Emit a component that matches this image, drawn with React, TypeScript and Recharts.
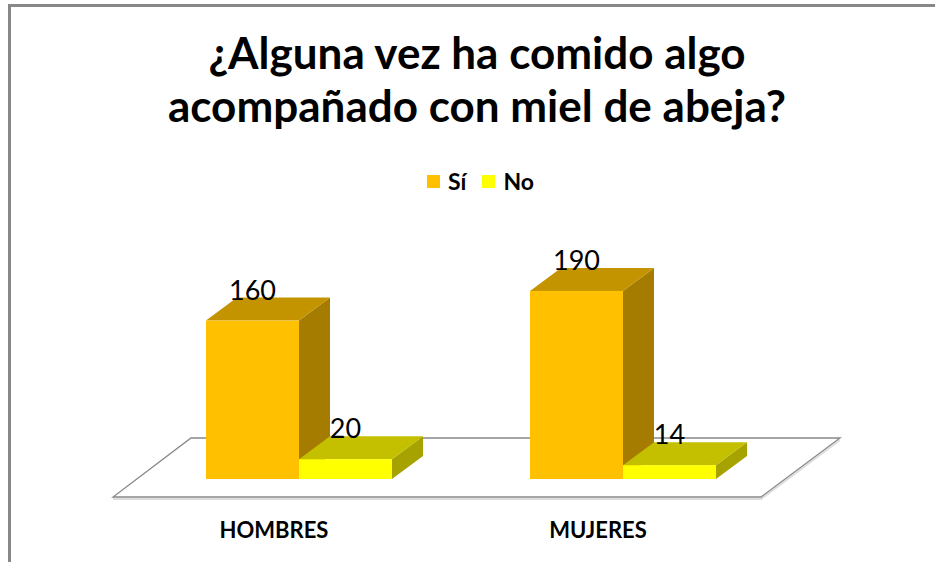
import { BarChart, Bar, XAxis, YAxis, Legend, LabelList } from "recharts";

const categories = ["HOMBRES", "MUJERES"];
const siValues = [160, 190];
const noValues = [20, 14];
const seriesNames = ["Sí", "No"];
const titleLines = ["¿Alguna vez ha comido algo", "acompañado con miel de abeja?"];

const W = 935;
const H = 562;
const margin = { top: 281, right: 150, left: 137, bottom: 53 };
const PLOT_LEFT = margin.left;
const PLOT_RIGHT = W - margin.right;
const PLOT_BOTTOM = H - margin.bottom - 30;
const DX = 31;
const DY = 23;
const FONT = "Lato, 'Open Sans', sans-serif";

const colors = {
  si: { front: "#FFC000", top: "#C49400", side: "#A67C00" },
  no: { front: "#FFFF00", top: "#C4C000", side: "#A6A300" },
};

const data = categories.map((name, i) => ({ name, si: siValues[i], no: noValues[i] }));

function makeShape(c: { front: string; top: string; side: string }) {
  return (props: any) => {
    const { x, y, width, height } = props;
    if (width == null || height == null) return <g />;
    const top = `${x},${y} ${x + DX},${y - DY} ${x + width + DX},${y - DY} ${x + width},${y}`;
    const side = `${x + width},${y} ${x + width + DX},${y - DY} ${x + width + DX},${y + height - DY} ${x + width},${y + height}`;
    return (
      <g>
        <polygon points={side} fill={c.side} />
        <polygon points={top} fill={c.top} />
        <rect x={x} y={y} width={width} height={height} fill={c.front} />
      </g>
    );
  };
}

const ValueLabel = (props: any) => {
  const { x, y, width, value } = props;
  return (
    <text x={x + width / 2} y={y - 21} textAnchor="middle" fontFamily={FONT} fontSize={27} fill="#000">
      {value}
    </text>
  );
};

const CategoryTick = (props: any) => {
  const { x, payload } = props;
  return (
    <text x={x - 25} y={538} textAnchor="middle" fontFamily={FONT} fontWeight="bold" fontSize={22} fill="#000">
      {payload.value}
    </text>
  );
};

const LegendBox = () => (
  <div style={{ display: "flex", justifyContent: "center", alignItems: "center", fontFamily: FONT, fontWeight: "bold", fontSize: 23, color: "#000", paddingLeft: 26 }}>
    {seriesNames.map((n, i) => (
      <div key={n} style={{ display: "flex", alignItems: "center", marginRight: i === 0 ? 16 : 0 }}>
        <span style={{ width: 13, height: 13, background: i === 0 ? colors.si.front : colors.no.front, marginRight: 8, display: "inline-block" }} />
        <span>{n}</span>
      </div>
    ))}
  </div>
);

function Backdrop() {
  const fl = PLOT_LEFT - 24;
  const fr = PLOT_RIGHT - 24;
  const fy = PLOT_BOTTOM + 18;
  const by = PLOT_BOTTOM - 41;
  const bl = PLOT_LEFT + 54;
  const br = PLOT_RIGHT + 55;
  return (
    <svg width={W} height={H} style={{ position: "absolute", left: 0, top: 0 }}>
      <rect x={0} y={0} width={W} height={H} fill="#fff" />
      <line x1={8} y1={5.5} x2={W} y2={5.5} stroke="#888" strokeWidth={3} />
      <line x1={9.5} y1={4} x2={9.5} y2={H} stroke="#888" strokeWidth={3} />
      {titleLines.map((t, i) => (
        <text key={i} x={477} y={69 + i * 53} textAnchor="middle" fontFamily={FONT} fontWeight="bold" fontSize={44} fill="#000">
          {t}
        </text>
      ))}
      <polyline points={`${fl},${fy + 2} ${fr},${fy + 2} ${br},${by + 2}`} fill="none" stroke="#ddd" strokeWidth={2} />
      <polygon points={`${fl},${fy} ${fr},${fy} ${br},${by} ${bl},${by}`} fill="#fff" stroke="#888" strokeWidth={1.3} />
    </svg>
  );
}

export default function App() {
  return (
    <div style={{ position: "absolute", left: 0, top: 0, width: W, height: H }}>
      <Backdrop />
      <div style={{ position: "absolute", left: 0, top: 0 }}>
        <BarChart width={W} height={H} data={data} margin={margin} barGap={0} barSize={93}>
          <XAxis dataKey="name" axisLine={false} tickLine={false} height={30} tick={<CategoryTick />} />
          <YAxis hide domain={[0, 200]} />
          <Legend verticalAlign="middle" align="center" wrapperStyle={{ top: 167, left: 0, width: W }} content={<LegendBox />} />
          <Bar dataKey="si" name={seriesNames[0]} fill={colors.si.front} shape={makeShape(colors.si)} isAnimationActive={false}>
            <LabelList dataKey="si" content={<ValueLabel />} />
          </Bar>
          <Bar dataKey="no" name={seriesNames[1]} fill={colors.no.front} shape={makeShape(colors.no)} isAnimationActive={false}>
            <LabelList dataKey="no" content={<ValueLabel />} />
          </Bar>
        </BarChart>
      </div>
    </div>
  );
}
